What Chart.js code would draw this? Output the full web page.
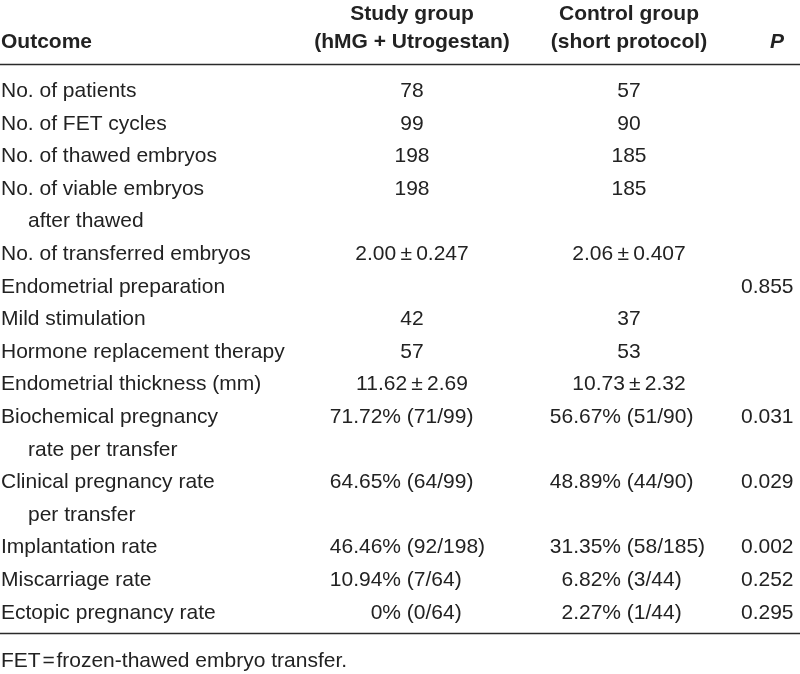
<!DOCTYPE html>
<html>
<head>
  <title>FET outcomes</title>
  <script src="https://cdn.jsdelivr.net/npm/chart.js"></script>
  <style>
    html, body { margin: 0; padding: 0; background: #fff; }
    #wrap { width: 800px; height: 674px; }
  </style>
</head>
<body>
  <div id="wrap"><canvas id="outcomeTable"></canvas></div>

  <script>
    // Table content
    var headers = [["Outcome"], ["Study group", "(hMG + Utrogestan)"], ["Control group", "(short protocol)"], ["P"]];
    var outcomes = [
      ["No. of patients"],
      ["No. of FET cycles"],
      ["No. of thawed embryos"],
      ["No. of viable embryos", "after thawed"],
      ["No. of transferred embryos"],
      ["Endometrial preparation"],
      ["Mild stimulation"],
      ["Hormone replacement therapy"],
      ["Endometrial thickness (mm)"],
      ["Biochemical pregnancy", "rate per transfer"],
      ["Clinical pregnancy rate", "per transfer"],
      ["Implantation rate"],
      ["Miscarriage rate"],
      ["Ectopic pregnancy rate"]
    ];
    var studyGroup = ["78", "99", "198", "198", "2.00\u2009\u00b1\u20090.247", "", "42", "57", "11.62\u2009\u00b1\u20092.69",
      "71.72% (71/99)", "64.65% (64/99)", "46.46% (92/198)", "10.94% (7/64)", "0% (0/64)"];
    var controlGroup = ["57", "90", "185", "185", "2.06\u2009\u00b1\u20090.407", "", "37", "53", "10.73\u2009\u00b1\u20092.32",
      "56.67% (51/90)", "48.89% (44/90)", "31.35% (58/185)", "6.82% (3/44)", "2.27% (1/44)"];
    var pValues = ["", "", "", "", "", "0.855", "", "", "", "0.031", "0.029", "0.002", "0.252", "0.295"];
    var footnote = "FET\u200a=\u200afrozen-thawed embryo transfer.";

    // Layout (x in table pixels, y in body line units)
    var colX = { label: 1, indent: 28, study: 412, studyPct: 401, control: 629, controlPct: 621, p: 741, pHead: 777 };
    var lineY = { head1: -2.362, head2: -1.503, topRule: -0.997, bottomRule: 16.457, note: 17.485 };

    // pick the condensed face if it is there
    var probe = document.createElement('canvas').getContext('2d');
    probe.font = '22px "Liberation Sans Narrow", monospace';
    var w1 = probe.measureText('No. of patients').width;
    probe.font = '22px monospace';
    var w2 = probe.measureText('No. of patients').width;
    var narrow = Math.abs(w1 - w2) > 0.5;
    var fontFace = narrow ? '"Liberation Sans Narrow"' : '"Liberation Sans"';
    var fontSize = narrow ? 22 : 21;
    var spacing = narrow ? 1.3 : 0;
    var boldSpacing = narrow ? 1.6 : 0;

    // Build cell points, one row may take two lines
    var labelPts = [], studyPts = [], controlPts = [], pPts = [];
    var line = 0;
    outcomes.forEach(function (lab, r) {
      lab.forEach(function (t, k) {
        labelPts.push({ x: k === 0 ? colX.label : colX.indent, y: line + k, text: t });
      });
      if (studyGroup[r]) {
        var sp = studyGroup[r].indexOf('% (') > -1;
        studyPts.push({ x: sp ? colX.studyPct : colX.study, y: line, text: studyGroup[r], split: sp });
      }
      if (controlGroup[r]) {
        var cp = controlGroup[r].indexOf('% (') > -1;
        controlPts.push({ x: cp ? colX.controlPct : colX.control, y: line, text: controlGroup[r], split: cp });
      }
      if (pValues[r]) pPts.push({ x: colX.p, y: line, text: pValues[r] });
      line += lab.length;
    });

    var headX = [colX.label, colX.study, colX.control, colX.pHead];
    var headAlign = ['left', 'center', 'center', 'center'];
    var headPts = [];
    headers.forEach(function (h, c) {
      var rows = h.length === 1 ? [lineY.head2] : [lineY.head1, lineY.head2];
      h.forEach(function (t, k) {
        headPts.push({ x: headX[c], y: rows[k], text: t, align: headAlign[c], italic: c === 3 });
      });
    });

    function ds(pts, align, bold) {
      return { type: 'scatter', data: pts, pointRadius: 0, pointHoverRadius: 0, align: align, bold: bold };
    }

    var tableText = {
      id: 'tableText',
      beforeDatasetsDraw: function (chart) {
        var c = chart.ctx, x = chart.scales.x, y = chart.scales.y;
        c.save();
        c.strokeStyle = '#2a2a2a';
        c.lineWidth = 1.6;
        [lineY.topRule, lineY.bottomRule].forEach(function (v) {
          var py = y.getPixelForValue(v);
          c.beginPath();
          c.moveTo(x.getPixelForValue(x.min), py);
          c.lineTo(x.getPixelForValue(x.max), py);
          c.stroke();
        });
        c.restore();
      },
      afterDatasetsDraw: function (chart) {
        var c = chart.ctx;
        c.save();
        c.fillStyle = '#222';
        c.textBaseline = 'alphabetic';
        chart.data.datasets.forEach(function (d, i) {
          chart.getDatasetMeta(i).data.forEach(function (el, j) {
            var cell = d.data[j];
            var font = (cell.italic ? 'italic ' : '') + (d.bold ? 'bold ' : '') + fontSize + 'px ' + fontFace;
            c.font = font;
            if ('letterSpacing' in c) c.letterSpacing = (d.bold ? boldSpacing : spacing) + 'px';
            if (cell.split) {
              var cut = cell.text.indexOf(' (');
              c.textAlign = 'right';
              c.fillText(cell.text.slice(0, cut), el.x, el.y);
              c.textAlign = 'left';
              c.fillText(cell.text.slice(cut), el.x, el.y);
            } else {
              c.textAlign = cell.align || d.align;
              c.fillText(cell.text, el.x, el.y);
            }
          });
        });
        c.restore();
      }
    };

    var ctx = document.getElementById('outcomeTable').getContext('2d');
    var chart = new Chart(ctx, {
      type: 'scatter',
      data: {
        datasets: [
          ds(headPts, 'left', true),
          ds(labelPts, 'left', false),
          ds(studyPts, 'center', false),
          ds(controlPts, 'center', false),
          ds(pPts, 'left', false),
          ds([{ x: colX.label, y: lineY.note, text: footnote }], 'left', false)
        ]
      },
      options: {
        responsive: true,
        maintainAspectRatio: false,
        animation: false,
        events: [],
        layout: { padding: 0 },
        plugins: { legend: { display: false }, tooltip: { enabled: false } },
        scales: {
          x: { type: 'linear', min: 0, max: 800, display: false },
          y: { type: 'linear', min: -2.975, max: 17.699, reverse: true, display: false }
        }
      },
      plugins: [tableText]
    });
  </script>
</body>
</html>
